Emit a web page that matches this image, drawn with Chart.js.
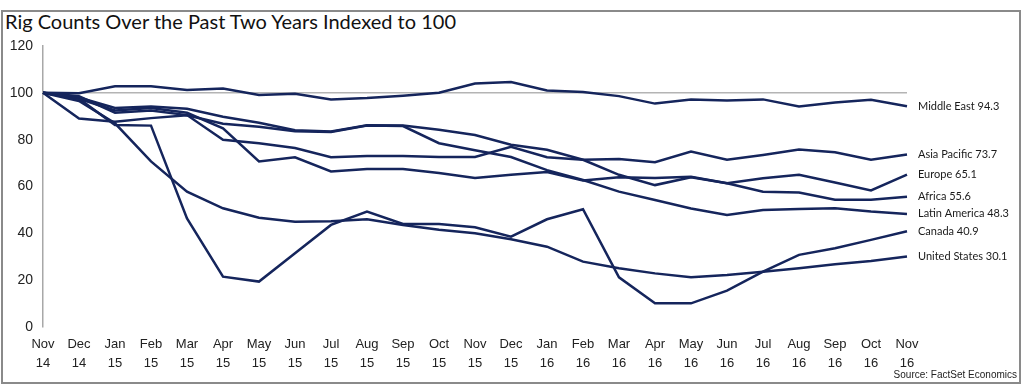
<!DOCTYPE html>
<html>
<head>
<meta charset="utf-8">
<script src="https://cdn.jsdelivr.net/npm/chart.js@4.4.1/dist/chart.umd.min.js"></script>
<style>
  body { margin: 0; background: #fff; }
  #wrap { position: relative; width: 1024px; height: 385px; overflow: hidden; }
  #frame { position: absolute; left: 1px; top: 10px; width: 1016px; height: 370px; border: 2px solid #8a8a8a; }
  #title { position: absolute; left: 5px; top: 9px; font: 20px Lato, "Open Sans", sans-serif; color: #111; white-space: nowrap; }
  #source { position: absolute; right: 7px; top: 369px; font: 10px "Liberation Sans Narrow", "Liberation Sans", sans-serif; color: #222; }
  canvas { position: absolute; left: 0; top: 0; }
</style>
</head>
<body>
<div id="wrap">
  <div id="frame"></div>
  <div id="title">Rig Counts Over the Past Two Years Indexed to 100</div>
  <canvas id="lineChart" width="1024" height="385"></canvas>
  <div id="source">Source: FactSet Economics</div>
</div>
<script>
const months = ["Nov", "Dec", "Jan", "Feb", "Mar", "Apr", "May", "Jun", "Jul", "Aug", "Sep", "Oct",
  "Nov", "Dec", "Jan", "Feb", "Mar", "Apr", "May", "Jun", "Jul", "Aug", "Sep", "Oct", "Nov"];
const years = ["14", "14", "15", "15", "15", "15", "15", "15", "15", "15", "15", "15",
  "15", "15", "16", "16", "16", "16", "16", "16", "16", "16", "16", "16", "16"];
const yTicks = [0, 20, 40, 60, 80, 100, 120];

const seriesNames = ["Middle East", "Asia Pacific", "Europe", "Africa", "Latin America", "Canada", "United States"];
const endValues = [94.3, 73.7, 65.1, 55.6, 48.3, 40.9, 30.1];

const middleEast = [100, 99.8, 102.8, 102.8, 101.2, 101.8, 99.1, 99.6, 97.2, 97.8, 98.8, 100, 104, 104.6, 101, 100.4, 98.6, 95.4, 97.1, 96.7, 97.2, 94.2, 95.9, 97, 94.3];
const asiaPacific = [100, 98.5, 91.5, 92.5, 90.5, 80, 78.5, 76.4, 72.5, 73, 73, 72.6, 72.6, 77, 72.5, 71.4, 71.7, 70.4, 74.9, 71.4, 73.5, 75.8, 74.6, 71.4, 73.7];
const europe = [100, 98, 93.5, 94.2, 93.2, 89.8, 87.2, 84, 83.5, 86.2, 86, 84.2, 82, 77.8, 75.7, 71.4, 65, 60.6, 63.9, 61.4, 63.5, 65, 61.7, 58.3, 65.1];
const africa = [100, 97.5, 92.5, 93.5, 91.5, 84.8, 70.7, 72.5, 66.4, 67.5, 67.5, 65.8, 63.6, 65, 66.2, 62.6, 64, 63.6, 64.2, 61.4, 57.8, 57.4, 54.3, 54.3, 55.6];
const latinAmerica = [100, 89, 87.7, 89.2, 90.4, 86.8, 85.5, 83.6, 83.3, 86, 85.8, 78.5, 75.5, 72.6, 67, 62.8, 57.8, 54.2, 50.6, 47.8, 50, 50.4, 50.7, 49.3, 48.3];
const canada = [100, 97.5, 86.3, 86, 46.4, 21.5, 19.4, 31.5, 43.6, 49.3, 44, 44, 42.6, 38.6, 46, 50.3, 21.2, 10.1, 10.1, 15.5, 23.6, 30.8, 33.6, 37.2, 40.9];
const unitedStates = [100, 96.5, 87, 70.7, 57.8, 50.7, 46.7, 45, 45.2, 46, 43.6, 41.5, 40, 37.5, 34.3, 27.9, 25.1, 22.9, 21.2, 22.2, 23.6, 25.1, 26.8, 28.2, 30.1];

const seriesData = [middleEast, asiaPacific, europe, africa, latinAmerica, canada, unitedStates];
const lineColor = "#15255c";

// label at the end of each line
const endLabels = {
  id: "endLabels",
  afterDatasetsDraw(chart) {
    const ctx = chart.ctx;
    ctx.save();
    ctx.font = "11px Lato, sans-serif";
    ctx.fillStyle = "#1a1a1a";
    ctx.textBaseline = "middle";
    chart.data.datasets.forEach((ds, i) => {
      const pts = chart.getDatasetMeta(i).data;
      const last = pts[pts.length - 1];
      ctx.fillText(ds.label + " " + endValues[i], last.x + 11, last.y);
    });
    ctx.restore();
  },
};

new Chart(document.getElementById("lineChart").getContext("2d"), {
  type: "line",
  data: {
    labels: months.map((m, i) => [m, years[i]]),
    datasets: seriesNames.map((name, i) => ({
      label: name,
      data: seriesData[i],
      borderColor: lineColor,
      backgroundColor: lineColor,
      borderWidth: 2.5,
      pointRadius: 0,
      tension: 0,
      fill: false,
    })),
  },
  options: {
    responsive: false,
    animation: false,
    devicePixelRatio: 1,
    layout: { padding: { left: 0, right: 117, top: 46, bottom: 0 } },
    plugins: { legend: { display: false }, tooltip: { enabled: false } },
    scales: {
      x: {
        offset: false,
        grid: { display: false, drawTicks: false },
        border: { display: false },
        ticks: {
          autoSkip: false,
          maxRotation: 0,
          padding: 8,
          color: "#222",
          font: { family: "'Liberation Sans Narrow', 'Liberation Sans', sans-serif", size: 13, lineHeight: 1.45 },
        },
        afterFit: (s) => { s.height = 58; },
      },
      y: {
        min: 0,
        max: 120,
        afterBuildTicks: (s) => { s.ticks = yTicks.map((v) => ({ value: v })); },
        grid: {
          drawTicks: false,
          lineWidth: 1.5,
          color: (c) => (c.tick && c.tick.value === 100 ? "#b4b4b4" : "rgba(0,0,0,0)"),
        },
        border: { display: true, color: "#a8a8a8", width: 1.5 },
        ticks: {
          padding: 10,
          color: "#222",
          font: { family: "'Liberation Sans', Arial, sans-serif", size: 14 },
        },
        afterFit: (s) => { s.width = 43; },
      },
    },
  },
  plugins: [endLabels],
});
</script>
</body>
</html>
